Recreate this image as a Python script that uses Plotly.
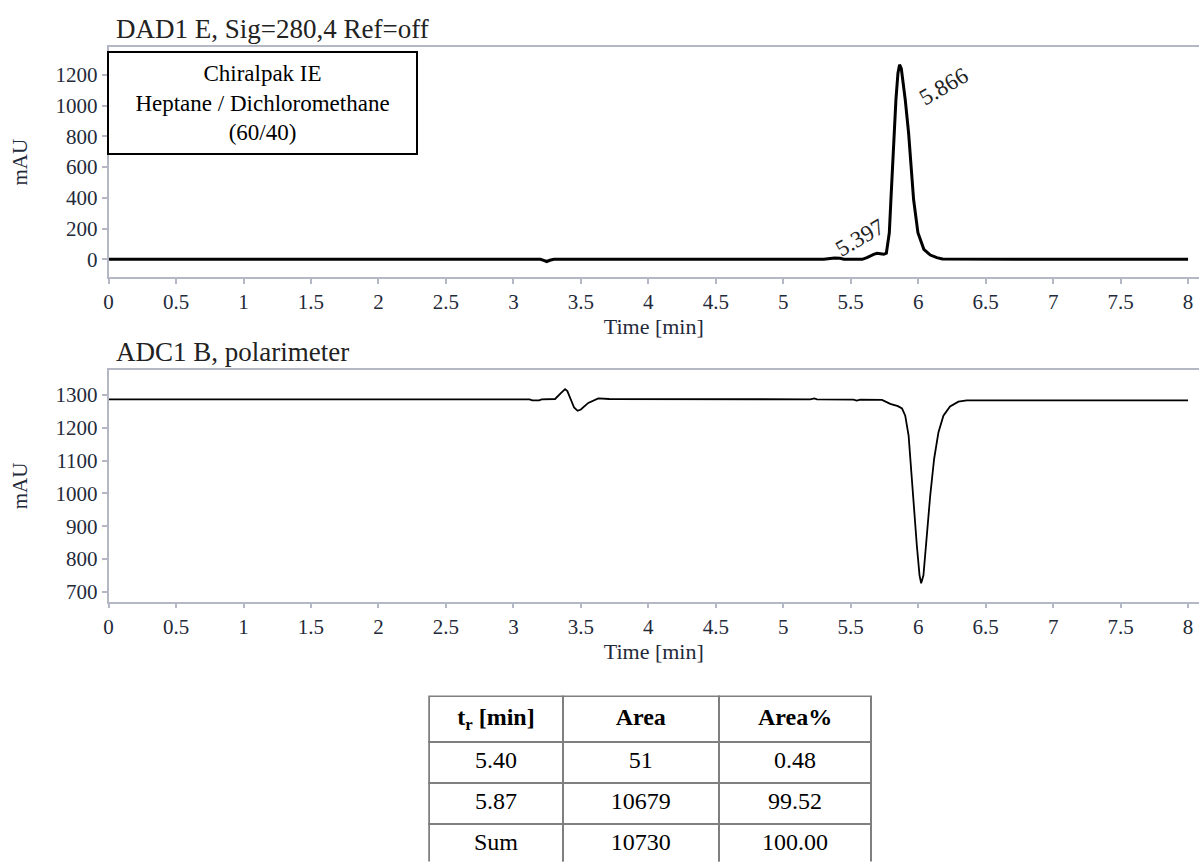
import plotly.graph_objects as go

# ---------------- data ----------------
# DAD1 E, Sig=280,4 (UV trace)
uv_time = [0.00, 3.20, 3.23, 3.247, 3.27, 3.30, 5.30, 5.35, 5.38, 5.42, 5.45,
           5.585, 5.62, 5.67, 5.695, 5.72, 5.745, 5.764, 5.786, 5.798, 5.81,
           5.823, 5.835, 5.85, 5.862, 5.875, 5.89, 5.904, 5.929, 5.946, 5.966,
           5.998, 6.042, 6.09, 6.138, 6.18, 8.00]
uv_mau = [0, 0, -8, -14, -6, 0, 0, 6, 9, 7, 1,
          0, 11, 32, 39, 36, 33, 40, 173, 389, 605,
          821, 1038, 1210, 1265, 1240, 1150, 1038, 821, 605, 389,
          173, 65, 28, 11, 2, 0]

# ADC1 B, polarimeter trace
pol_time = [0.00, 3.12, 3.14, 3.19, 3.21, 3.309, 3.35, 3.383, 3.40, 3.42, 3.45,
            3.476, 3.50, 3.555, 3.60, 3.629, 3.71, 5.20, 5.23, 5.25, 5.52, 5.545,
            5.57, 5.70, 5.732, 5.793, 5.85, 5.88, 5.904, 5.929, 5.946, 5.966,
            5.99, 6.01, 6.022, 6.039, 6.064, 6.089, 6.118, 6.15, 6.187, 6.236,
            6.298, 6.36, 8.00]
pol_mau = [1287, 1287, 1284, 1284, 1287, 1288, 1305, 1318, 1312, 1290, 1262,
           1252, 1256, 1276, 1286, 1290, 1288, 1287, 1290, 1287, 1286, 1283,
           1286, 1287, 1285, 1273, 1266, 1259, 1237, 1176, 1075, 973,
           841, 750, 726, 750, 871, 993, 1105, 1186, 1237, 1265,
           1280, 1284, 1284]

# peak labels
peak_rt = [5.397, 5.866]
peak_label_pos_t = [5.572, 6.19]
peak_label_pos_v = [143, 1122]

# tick values
uv_ticks = [0, 200, 400, 600, 800, 1000, 1200]
pol_ticks = [700, 800, 900, 1000, 1100, 1200, 1300]
time_ticks = [0, 0.5, 1, 1.5, 2, 2.5, 3, 3.5, 4, 4.5, 5, 5.5, 6, 6.5, 7, 7.5, 8]

# integration table
col_headers = ["<b>t<sub>r</sub> [min]</b>", "<b>Area</b>", "<b>Area%</b>"]
tr_col = ["5.40", "5.87", "Sum"]
area_col = ["51", "10679", "10730"]
area_pct_col = ["0.48", "99.52", "100.00"]

# ---------------- styling ----------------
W, H = 1203, 864
FONT = "Liberation Serif, Times New Roman, serif"
TICK_COLOR = "#1f2a3a"
AXIS_LINE = "#b3b8c4"


def px_x(p):
    return p / W


def px_y(p):
    return 1 - p / H


fig = go.Figure()

fig.add_trace(go.Scatter(x=uv_time, y=uv_mau, mode="lines",
                         line=dict(color="black", width=3),
                         xaxis="x", yaxis="y", showlegend=False,
                         hoverinfo="x+y"))
fig.add_trace(go.Scatter(x=pol_time, y=pol_mau, mode="lines",
                         line=dict(color="black", width=1.8),
                         xaxis="x2", yaxis="y2", showlegend=False,
                         hoverinfo="x+y"))

fig.add_trace(go.Table(
    domain=dict(x=[px_x(426), px_x(870)], y=[0, px_y(698)]),
    columnwidth=[134, 157, 153],
    header=dict(values=col_headers, align="center", height=43,
                line=dict(color="#7f7f7f", width=2),
                fill=dict(color="white"),
                font=dict(family=FONT, size=24, color="black")),
    cells=dict(values=[tr_col, area_col, area_pct_col], align="center",
               height=41,
               line=dict(color="#7f7f7f", width=2),
               fill=dict(color="white"),
               font=dict(family=FONT, size=24, color="black")),
))

x_dom = [px_x(104), px_x(1199)]
x_range = [0, (1199 - 104) / 135.5]

common_x = dict(domain=x_dom, range=x_range, tickvals=time_ticks,
                ticks="outside", ticklen=5, tickcolor=AXIS_LINE, tickwidth=1.5,
                showline=True, linecolor=AXIS_LINE, linewidth=1.5, mirror=True,
                showgrid=False, zeroline=False,
                tickfont=dict(family=FONT, size=21, color=TICK_COLOR),
                title=dict(text="Time [min]", standoff=4,
                           font=dict(family=FONT, size=22, color=TICK_COLOR)))
common_y = dict(ticks="outside", ticklen=5, tickcolor=AXIS_LINE, tickwidth=1.5,
                showline=True, linecolor=AXIS_LINE, linewidth=1.5,
                showgrid=False, zeroline=False,
                tickfont=dict(family=FONT, size=21, color=TICK_COLOR),
                title=dict(text="mAU", standoff=22,
                           font=dict(family=FONT, size=21, color=TICK_COLOR)))

fig.update_layout(
    width=W, height=H,
    margin=dict(l=0, r=0, t=0, b=0),
    paper_bgcolor="white", plot_bgcolor="white",
    font=dict(family=FONT, color=TICK_COLOR),
    xaxis=dict(anchor="y", **common_x),
    yaxis=dict(anchor="x", domain=[px_y(278), px_y(47)], range=[-117, 1381],
               tickvals=uv_ticks, **common_y),
    xaxis2=dict(anchor="y2", **common_x),
    yaxis2=dict(anchor="x2", domain=[px_y(603), px_y(371)], range=[670, 1376],
                tickvals=pol_ticks, **common_y),
)

annotations = [
    dict(text="DAD1 E, Sig=280,4 Ref=off", xref="paper", yref="paper",
         x=px_x(109), y=px_y(46), xanchor="left", yanchor="bottom",
         showarrow=False, font=dict(family=FONT, size=27, color="#222222")),
    dict(text="ADC1 B, polarimeter", xref="paper", yref="paper",
         x=px_x(109), y=px_y(370), xanchor="left", yanchor="bottom",
         showarrow=False, font=dict(family=FONT, size=27, color="#222222")),
    dict(text="Chiralpak IE<br>Heptane / Dichloromethane<br>(60/40)",
         xref="paper", yref="paper", x=px_x(259), y=px_y(103),
         xanchor="center", yanchor="middle", showarrow=False,
         width=305, height=98, align="center", valign="middle",
         bordercolor="black", borderwidth=2, bgcolor="white",
         font=dict(family=FONT, size=23, color="black")),
]
for rt, tx, ty in zip(peak_rt, peak_label_pos_t, peak_label_pos_v):
    annotations.append(dict(text=f"{rt:.3f}", x=tx, y=ty, xref="x", yref="y",
                            showarrow=False, textangle=-30,
                            xanchor="center", yanchor="middle",
                            font=dict(family=FONT, size=23, color="#222222")))
fig.update_layout(annotations=annotations)

fig.write_html("out.html",
               config={"displayModeBar": False},
               post_script="document.body.style.margin='0px';"
                           "document.body.style.overflow='hidden';")
